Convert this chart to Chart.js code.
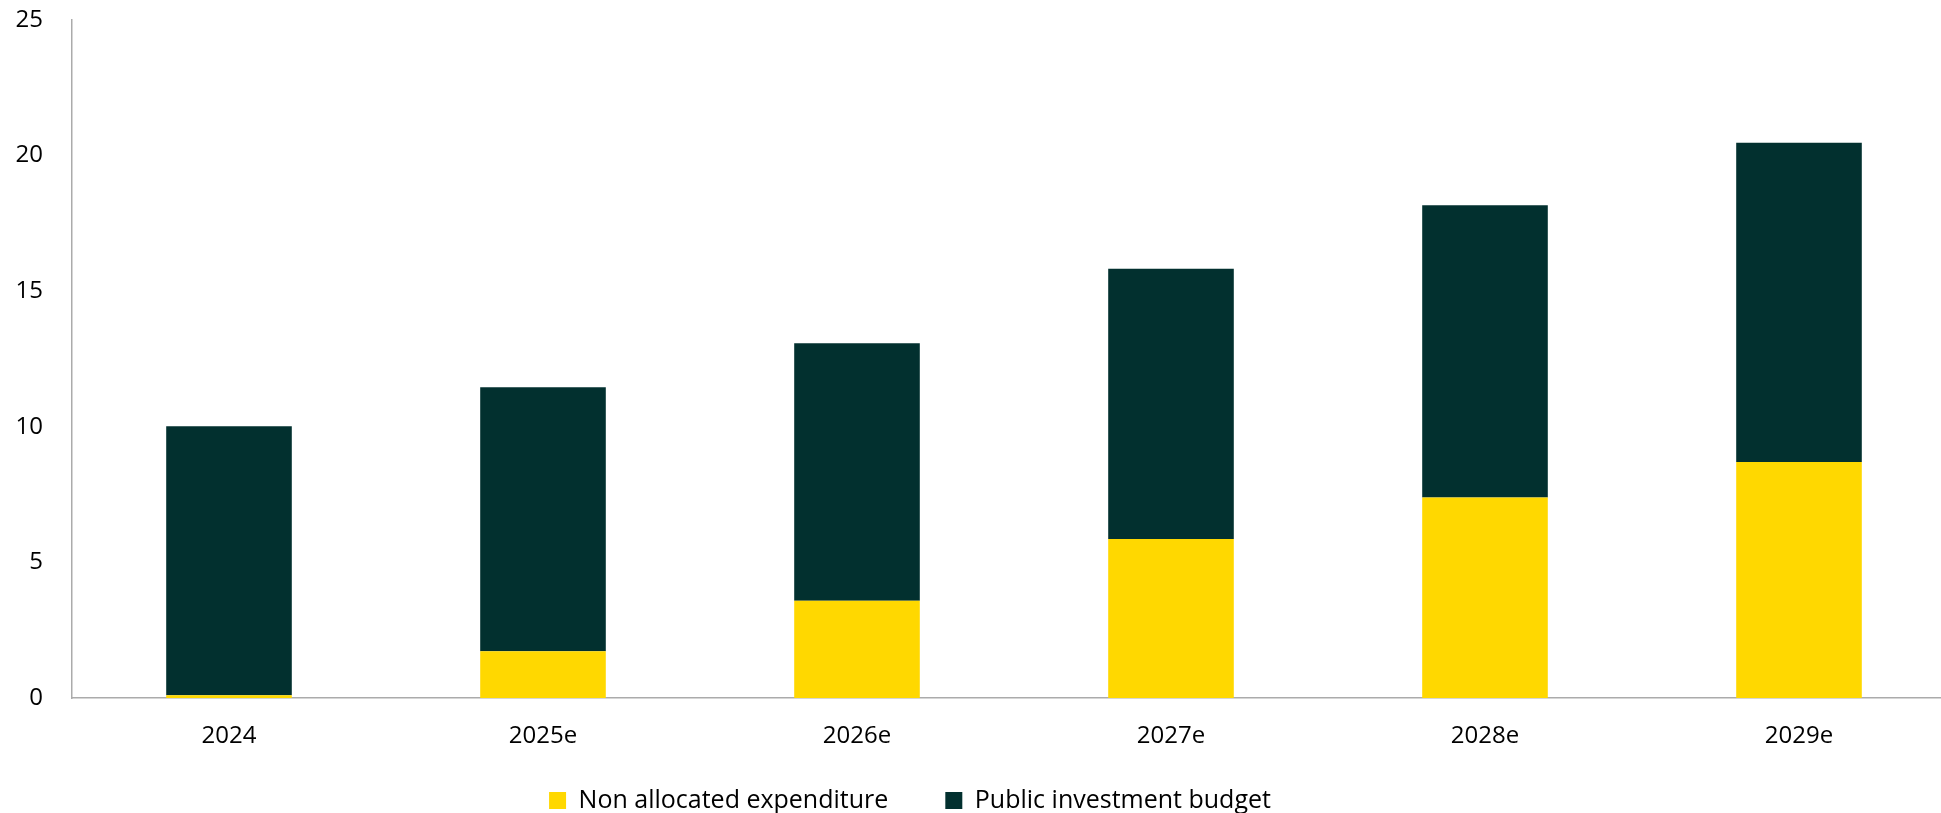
<!DOCTYPE html>
<html>
<head>
<meta charset="utf-8">
<script src="https://cdn.jsdelivr.net/npm/chart.js@4/dist/chart.umd.min.js"></script>
<style>
  html, body { margin: 0; padding: 0; background: #ffffff; overflow: hidden; }
  #wrap { width: 1956px; height: 813px; }
</style>
</head>
<body>
<div id="wrap"><canvas id="chart" width="1956" height="813"></canvas></div>
<script>
// Categories (years, "e" = estimate)
const years = ['2024', '2025e', '2026e', '2027e', '2028e', '2029e'];

// Non allocated expenditure (stacked at the bottom)
const nonAllocated = [0.1, 1.72, 3.59, 5.86, 7.39, 8.70];

// Total envelope per year; the public investment budget is the remainder
const totals = [10.02, 11.46, 13.08, 15.83, 18.17, 20.47];
const publicInvestment = totals.map((t, i) => +(t - nonAllocated[i]).toFixed(2));

// Value axis ticks
const yTicks = [0, 5, 10, 15, 20, 25];

const FONT = '"Open Sans", "Noto Sans", sans-serif';
const AXIS_GREY = '#ababab';

// Places the legend row under the axis labels, centred at x = 910
const legendPlacement = {
  id: 'legendPlacement',
  afterLayout(chart) {
    const lg = chart.legend;
    lg.left = 0;
    lg.right = 1820;
    lg.top = 731;
  }
};

new Chart(document.getElementById('chart'), {
  type: 'bar',
  data: {
    labels: years,
    datasets: [
      {
        label: 'Non allocated expenditure',
        data: nonAllocated,
        backgroundColor: '#FFD800',
        borderWidth: 0
      },
      {
        label: 'Public investment budget',
        data: publicInvestment,
        backgroundColor: '#02302F',
        borderWidth: 0
      }
    ]
  },
  options: {
    responsive: false,
    animation: false,
    devicePixelRatio: 1,
    layout: { padding: { top: 0, left: 0, right: 0, bottom: 0 } },
    datasets: {
      bar: { barPercentage: 0.4, categoryPercentage: 1.0 }
    },
    scales: {
      x: {
        stacked: true,
        grid: { display: false, drawTicks: false },
        border: { display: true, color: AXIS_GREY, width: 1.5 },
        ticks: {
          color: '#000000',
          padding: 24,
          font: { family: FONT, size: 24 }
        },
        afterFit(scale) { scale.height = 55; }
      },
      y: {
        stacked: true,
        min: 0,
        max: 25,
        afterBuildTicks(scale) { scale.ticks = yTicks.map(v => ({ value: v })); },
        grid: { display: false, drawTicks: false },
        border: { display: true, color: AXIS_GREY, width: 1.5 },
        ticks: {
          color: '#000000',
          padding: 29,
          font: { family: FONT, size: 24 }
        },
        afterFit(scale) {
          scale.width = 72;
          scale.paddingTop = 20;
          scale.paddingBottom = 0;
        }
      }
    },
    plugins: {
      legend: {
        display: true,
        position: 'bottom',
        maxHeight: 60,
        labels: {
          boxWidth: 17,
          boxHeight: 17,
          padding: 57,
          color: '#000000',
          font: { family: FONT, size: 25 }
        }
      },
      tooltip: { enabled: false }
    }
  },
  plugins: [legendPlacement]
});
</script>
</body>
</html>
